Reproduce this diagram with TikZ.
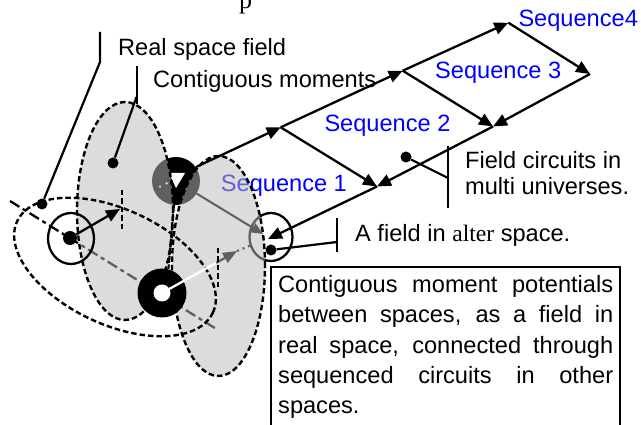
\documentclass[tikz,border=0pt]{standalone}
\usepackage{fontspec}
\setmainfont{Liberation Sans}
\newfontfamily\serifalt{Liberation Serif}
\usetikzlibrary{arrows.meta,shapes.geometric}
\definecolor{shade}{gray}{0.733}
\begin{document}
\begin{tikzpicture}[x=1pt,y=-1pt,
  txt/.style={anchor=base west, inner sep=0pt, font=\fontsize{23.6}{28}\selectfont},
  seq/.style={txt, text=blue},
  chainline/.style={line width=2.3pt, -{Triangle[length=14pt,width=12pt]}},
  leader/.style={line width=2.2pt},
  ldot/.style={circle, fill=black, inner sep=0pt, minimum size=11pt},
  edash/.style={line width=2.4pt, dash pattern=on 5.5pt off 3pt},
  axisline/.style={line width=2.3pt, dash pattern=on 11pt off 4pt on 4pt off 4pt},
  shadefill/.style={fill=shade, fill opacity=0.514},
]
\useasboundingbox (0,0) rectangle (641,425);
\clip (0,0) rectangle (641,425);

% ---------- coordinates ----------
\coordinate (ax1) at (10,201);
\coordinate (ax2) at (218,330);
\coordinate (P1) at (280.7,127.3);
\coordinate (P2) at (402.7,70.7);
\coordinate (P3) at (508.3,22.7);
\coordinate (P4) at (590,74);
\coordinate (Q3) at (493,126.5);
\coordinate (Q2) at (377,186.5);
\coordinate (at1) at (268,239);
\coordinate (at2) at (263,234);
\coordinate (m1tip) at (120,209);
\coordinate (m2w) at (216,263);
\coordinate (g2tip) at (237,251);

% ---------- under layer (tinted by the shaded fields) ----------
\draw[axisline] (ax1) -- (ax2);
\node[circle, fill=black, minimum size=48pt, inner sep=0pt] (D) at (176,181) {};
\fill[white] (169,173) -- (185,173) -- (176,188) -- cycle;
\fill[white] (160,186.7) circle[radius=1.3pt];
\fill[white] (166.7,183.3) circle[radius=1.3pt];
\node[ellipse, draw, line width=2.3pt, minimum width=43pt, minimum height=48pt, inner sep=0pt] (alt) at (271,237) {};
\draw[line width=2pt, -{Triangle[length=12pt,width=10pt]}] (D) -- (at2);
\draw[line width=2.2pt, -{Triangle[length=14pt,width=11pt]}] (m2w) -- (g2tip);
\draw[line width=2.2pt, dash pattern=on 2pt off 4pt] (g2tip) -- (alt);
\node[seq] (s1) at (220.7,191.7) {Sequence 1};

% ---------- shaded fields ----------
\draw[edash, shadefill] (125,211) ellipse [x radius=48pt, y radius=109pt];
\draw[edash, shadefill] (218.5,266) ellipse [x radius=46.5pt, y radius=110pt];

% ---------- over layer ----------
\draw[edash, rotate around={-25:(115,267)}] (115,267) ellipse [x radius=108pt, y radius=57.5pt];

% small ring in real space
\node[ellipse, draw, line width=2.3pt, minimum width=46pt, minimum height=51pt, inner sep=0pt] (sr) at (71,238.5) {};
\node[circle, fill=black, minimum size=14pt, inner sep=0pt] (sd) at (70,238) {};
\draw[chainline] (sd) -- (m1tip);
\draw[edash] (122,190) -- (122,229);

% black ring
\node[circle, fill=black, minimum size=49pt, inner sep=0pt] (R) at (162,293) {};
\draw[white, line width=2.3pt] (R.center) -- (m2w);
\node[circle, fill=white, minimum size=17pt, inner sep=0pt] (Rc) at (162,293) {};
\draw[edash] (218,248) -- (218,287);
\draw[line width=2.2pt, dash pattern=on 7pt off 1.5pt] (D.-95) -- (R.75);

% sequence chain
\draw[chainline] (D.35) -- (P1);
\draw[chainline] (P1) -- (P2);
\draw[chainline] (P2) -- (P3);
\draw[chainline] (P3) -- (P4);
\draw[chainline] (P4) -- (Q3);
\draw[chainline] (P2) -- (Q3);
\draw[chainline] (Q3) -- (Q2);
\draw[chainline] (P1) -- (Q2);
\draw[chainline] (Q2) -- (at1);

\node[seq] (s2) at (324.3,131.7) {Sequence 2};
\node[seq] (s3) at (435,78.3) {Sequence 3};
\node[seq] (s4) at (518.3,26.7) {Sequence4};

% labels and leaders
\node[txt, font=\serifalt\fontsize{26}{30}\selectfont] (ptop) at (239,9) {p};
\node[txt] (lreal) at (118,56) {Real space field};
\node[ldot] (dreal) at (42,204) {};
\draw[leader] (100,32) -- (100,62) -- (dreal);

\node[txt] (lcont) at (153,88) {Contiguous moments};
\node[ldot] (dcont) at (113,163) {};
\draw[leader] (137,66) -- (137,104);
\draw[leader] (136.5,97) -- (dcont);

\node[txt] (lfield) at (465,168.3) {\parbox[t]{200pt}{\fontsize{23.6}{26.7}\selectfont Field circuits in\\multi universes.}};
\node[ldot] (dfield) at (406,157) {};
\draw[leader] (448,146) -- (448,208);
\draw[leader] (448,178) -- (dfield);

\node[txt] (lalter) at (355,241.7) {A field in {\serifalt alter} space.};
\node[ldot] (dalter) at (271,250) {};
\draw[leader] (337,218) -- (337,252);
\draw[leader] (337,242) -- (dalter);

% text box
\draw[line width=1.8pt] (271,432) -- (271,267) -- (620,267) -- (620,432);
\node[txt] (boxt) at (278,292.7) {\parbox[t]{335pt}{\fontsize{23.6}{30.2}\selectfont
\makebox[335pt][s]{Contiguous moment potentials}\\
\makebox[335pt][s]{between spaces, as a field in}\\
\makebox[335pt][s]{real space, connected through}\\
\makebox[335pt][s]{sequenced circuits in other}\\
spaces.}};
\end{tikzpicture}
\end{document}
